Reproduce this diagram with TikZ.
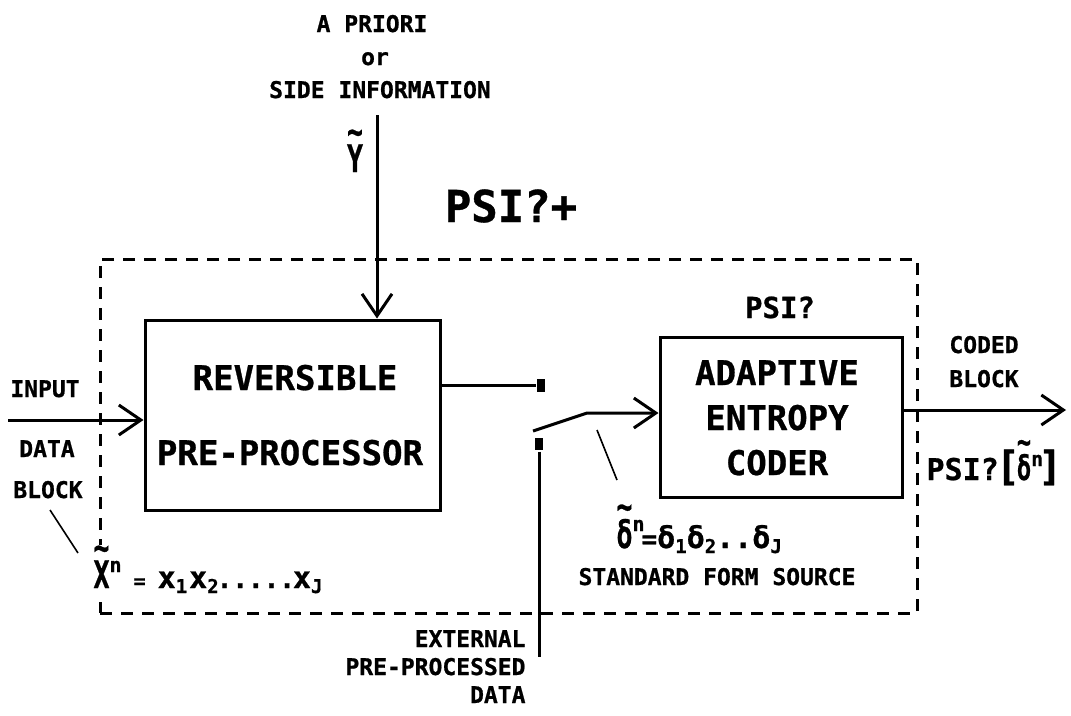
\documentclass[tikz,border=0pt]{standalone}
\usepackage{fontspec}
\setmainfont{DejaVu Sans Mono}[BoldFeatures={FakeBold=0.8}]
\usepackage{graphicx}
\usetikzlibrary{arrows.meta}
\newcommand\fs[1]{\fontsize{#1}{#1}\selectfont\bfseries}
\newcommand\tl[2][0.68em]{\leavevmode\rlap{\raisebox{#1}{\textasciitilde}}#2}
\newcommand\sbs[1]{\raisebox{-5pt}{\fs{19}#1}}
\newcommand\sps[2][16pt]{\raisebox{#1}{\fs{20}#2}}
\begin{document}
\begin{tikzpicture}[x=1pt,y=-1pt,line width=3pt,
  box/.style={draw,line width=3pt,inner sep=0pt},
  lbl/.style={inner sep=0pt,anchor=base,font={\fs{23}}},
  big/.style={inner sep=0pt,anchor=base,font={\fs{34}}},
  arr/.style={-{Straight Barb[length=22pt,width=30pt,line width=3pt]},line width=3pt},
  lead/.style={line width=1.6pt},
  term/.style={fill,inner sep=0pt,minimum width=8pt,minimum height=13pt},
  frame/.style={draw,line width=3pt,dash pattern=on 12pt off 9pt,inner sep=0pt}]
\useasboundingbox (0,0) rectangle (1071,715);

% dashed PSI?+ frame
\node[frame,minimum width=817pt,minimum height=354pt] (fr) at (508.5,436) {};

% boxes
\node[box,minimum width=295pt,minimum height=190pt] (rev) at (292.5,415) {};
\node[box,minimum width=242pt,minimum height=160pt] (ada) at (781,417) {};

\node[big] (t1) at (295,390) {REVERSIBLE};
\node[big] (t2) at (290,465) {PRE-PROCESSOR};
\node[big] (t3) at (777,385) {ADAPTIVE};
\node[big] (t4) at (777,430) {ENTROPY};
\node[big] (t5) at (777,475) {CODER};

% top labels
\node[lbl] (ap) at (372,32) {A PRIORI};
\node[lbl] (or) at (375,65) {or};
\node[lbl] (si) at (380,98) {SIDE INFORMATION};
\node[lbl] (yv) at (355,172) {\scalebox{0.7}[1]{\fs{38}\tl[0.72em]{Y}}};
\node[inner sep=0pt,anchor=base,font={\fs{44}}] (psip) at (511,222) {PSI?+};
\node[inner sep=0pt,anchor=base,font={\fs{29}}] (psi) at (780,318) {PSI?};

% left labels
\node[lbl] (inl) at (45,397) {INPUT};
\node[lbl] (dat) at (47,457) {DATA};
\node[lbl] (blk) at (48,498) {BLOCK};
\node[inner sep=1pt,fill=white,anchor=base west] (xn) at (91,588)
  {\scalebox{0.7}[1]{\fs{38}\tl[0.72em]{X}}\sps{n}\fs{20}\ = \fs{30}x\sbs{1}\kern2pt x\sbs{2}\fs{26}\kern-2pt.....\kern-2pt\fs{30}x\sbs{J}};

% right labels
\node[lbl] (cod) at (984,353) {CODED};
\node[lbl] (blk2) at (984,387) {BLOCK};
\node[inner sep=0pt,anchor=base west] (psid) at (925,480)
  {\fs{30}PSI?\kern-3pt\fs{40}[\kern-3pt\scalebox{0.7}[1]{\fs{34}\tl[0.78em]{δ}}\sps[14pt]{n}\kern-5pt\fs{40}]};

% delta line
\node[inner sep=0pt,anchor=base west] (dn) at (615,548)
  {\scalebox{0.7}[1]{\fs{38}\tl[0.75em]{δ}}\sps[17pt]{n}\fs{26}\kern-3pt=\fs{30}δ\sbs{1}δ\sbs{2}..δ\sbs{J}};
\node[lbl] (std) at (717,585) {STANDARD FORM SOURCE};

% external labels
\node[lbl,anchor=base east] (ex1) at (527,647) {EXTERNAL};
\node[lbl,anchor=base east] (ex2) at (527,675) {PRE-PROCESSED};
\node[lbl,anchor=base east] (ex3) at (527,703) {DATA};

% terminals
\node[term] (ta) at (541,385) {};
\node[term,minimum height=12pt] (tb) at (539,444) {};

% connectors
\coordinate (ytop) at (377,115);
\draw[arr] (ytop) -- (ytop |- rev.north);
\coordinate (inp) at (8,420);
\draw[arr] (inp) -- (inp -| rev.west);
\draw (rev.east |- ta) -- (ta.west);
\coordinate (sw) at (533,431);
\coordinate (knee) at (587,413);
\draw[arr] (sw) -- (knee) -- (knee -| ada.west);
\coordinate (ext) at (539,657);
\draw (tb.south) -- (ext);
\coordinate (outp) at (1066,410);
\draw[arr] (outp -| ada.east) -- (outp);

% leaders
\coordinate (la) at (50,510);
\coordinate (lb) at (78,553);
\draw[lead] (la) -- (lb);
\coordinate (lc) at (597,430);
\coordinate (ld) at (617,480);
\draw[lead] (lc) -- (ld);
\end{tikzpicture}
\end{document}
